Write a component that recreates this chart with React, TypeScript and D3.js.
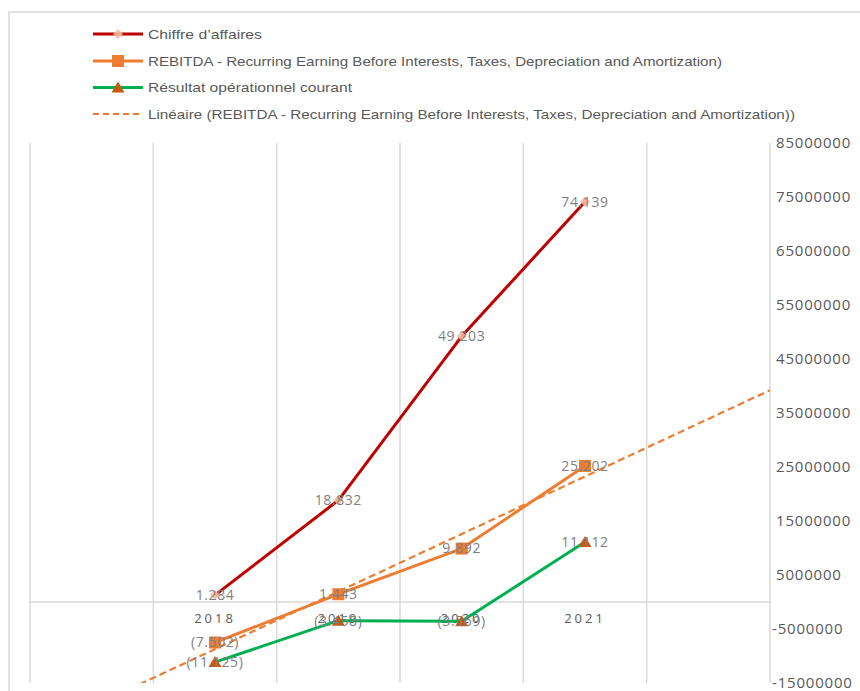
import React from 'react';
import * as d3 from 'd3';

// Categories (with an empty slot each side for the trendline forecast)
const slots = ['', '2018', '2019', '2020', '2021', ' '];
const years = ['2018', '2019', '2020', '2021'];

const chiffreAffaires = [1284000, 18832000, 49203000, 74139000];
const rebitda = [-7502000, 1443000, 9892000, 25202000];
const resultatOp = [-11125000, -3458000, -3569000, 11112000];

const yTicks = [-15000000, -5000000, 5000000, 15000000, 25000000, 35000000, 45000000, 55000000, 65000000, 75000000, 85000000];

const legendLabels = [
  'Chiffre d\u2019affaires',
  'REBITDA - Recurring Earning Before Interests, Taxes, Depreciation and Amortization)',
  'Résultat opérationnel courant',
  'Linéaire (REBITDA - Recurring Earning Before Interests, Taxes, Depreciation and Amortization))',
];
const legendWidths = [114, 574, 204, 647];

const W = 860;
const H = 691;
const left = 30;
const right = 770;
const top = 143;
const bottom = 683;

const grey = '#595959';
const gridCol = '#d9d9d9';

const fmt = (v: number) => {
  const s = d3.format(',')(Math.round(Math.abs(v) / 1000)).replace(/,/g, '.');
  return v < 0 ? `(${s})` : s;
};

const App: React.FC = () => {
  const x = d3.scaleBand<string>().domain(slots).range([left, right]).padding(0);
  const xi = d3.scaleLinear().domain([-0.5, slots.length - 0.5]).range([left, right]);
  const y = d3.scaleLinear().domain([-15000000, 85000000]).range([bottom, top]);
  const cx = (yr: string) => (x(yr) as number) + x.bandwidth() / 2;

  const line = d3.line<number>()
    .x((_, i) => cx(years[i]))
    .y(d => y(d));

  // linear trend on REBITDA (Excel "Linéaire", forecast one period each way)
  const idx = years.map(yr => slots.indexOf(yr));
  const mx = d3.mean(idx) as number;
  const my = d3.mean(rebitda) as number;
  const slope = d3.sum(idx, (v, i) => (v - mx) * (rebitda[i] - my)) / d3.sum(idx, v => (v - mx) ** 2);
  const trend = (v: number) => my + slope * (v - mx);
  const t0 = -0.5;
  const t1 = slots.length - 0.5;

  const series = [
    { name: 'ca', data: chiffreAffaires, color: '#c00000', marker: 'diamond' },
    { name: 'rebitda', data: rebitda, color: '#ed7d31', marker: 'square' },
    { name: 'roc', data: resultatOp, color: '#00b050', marker: 'triangle' },
  ];

  const marker = (kind: string, px: number, py: number, key: string) => {
    if (kind === 'diamond') {
      return <path key={key} d={`M${px},${py - 5}L${px + 5},${py}L${px},${py + 5}L${px - 5},${py}Z`} fill="#f4b9a0" opacity={0.9} />;
    }
    if (kind === 'square') {
      return <rect key={key} x={px - 6} y={py - 6} width={12} height={12} fill="#ed7d31" />;
    }
    return <path key={key} d={`M${px},${py - 6}L${px + 6.5},${py + 5}L${px - 6.5},${py + 5}Z`} fill="#c55a11" />;
  };

  const font = "'Open Sans', 'Liberation Sans', sans-serif";

  return (
    <svg width={W} height={H} style={{ position: 'absolute', left: 0, top: 0, display: 'block' }} fontFamily={font}>
      <rect width={W} height={H} fill="#fff" />
      {/* chart border */}
      <path d={`M9,${H}V12H${W}`} fill="none" stroke={gridCol} strokeWidth={1.5} />

      {/* legend */}
      {legendLabels.map((lab, i) => {
        const ly = [34, 61, 87.5, 114][i];
        const col = ['#c00000', '#ed7d31', '#00b050', '#ed7d31'][i];
        return (
          <g key={lab}>
            <line x1={93} x2={143} y1={ly} y2={ly} stroke={col} strokeWidth={i === 3 ? 2 : 3}
              strokeDasharray={i === 3 ? '6,4' : undefined} />
            {i < 3 && marker(series[i].marker, 118, ly, 'lm' + i)}
            <text x={148} y={ly} dy="0.35em" fontSize={13.5} fill={grey} textLength={legendWidths[i]}
              lengthAdjust="spacingAndGlyphs" fontFamily="'Liberation Sans', sans-serif">{lab}</text>
          </g>
        );
      })}

      {/* vertical gridlines */}
      {d3.range(slots.length).map(i => (
        <line key={'g' + i} x1={xi(i - 0.5)} x2={xi(i - 0.5)} y1={top} y2={bottom} stroke={gridCol} strokeWidth={1.5} />
      ))}
      {/* value axis on the right */}
      <line x1={right} x2={right} y1={top} y2={bottom} stroke={gridCol} strokeWidth={1.5} />
      {/* category axis at zero */}
      <line x1={left} x2={right} y1={y(0)} y2={y(0)} stroke={gridCol} strokeWidth={1.5} />

      {yTicks.map(t => (
        <text key={'yt' + t} x={t < 0 ? 772 : 776} y={y(t)} dy="0.35em" fontSize={15} fill={grey} letterSpacing={0.8}>{t}</text>
      ))}
      {years.map(yr => (
        <text key={'xt' + yr} x={cx(yr)} y={618} dy="0.35em" textAnchor="middle" fontSize={13} fill={grey} letterSpacing={3}>{yr}</text>
      ))}

      <defs>
        <clipPath id="plot">
          <rect x={left} y={top} width={right - left} height={bottom - top} />
        </clipPath>
      </defs>
      <line clipPath="url(#plot)" x1={xi(t0)} y1={y(trend(t0))} x2={xi(t1)} y2={y(trend(t1))}
        stroke="#ed7d31" strokeWidth={2.2} strokeDasharray="7,4" />

      {series.map(s => (
        <path key={s.name} d={line(s.data) as string} fill="none" stroke={s.color} strokeWidth={3} strokeLinejoin="round" />
      ))}
      {series.map(s => s.data.map((v, i) => marker(s.marker, cx(years[i]), y(v), s.name + i)))}
      {series.map(s => s.data.map((v, i) => (
        <text key={'dl' + s.name + i} x={cx(years[i])} y={y(v)} dy="0.35em" textAnchor="middle" fontSize={14} fill="#7f7f7f" letterSpacing={0.6}>{fmt(v)}</text>
      )))}
    </svg>
  );
};

export default App;
